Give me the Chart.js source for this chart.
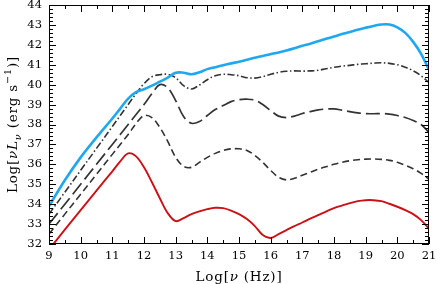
<!DOCTYPE html>
<html><head><meta charset="utf-8">
<script src="https://cdn.jsdelivr.net/npm/chart.js@4"></script>
<style>html,body{margin:0;padding:0;background:#fff;}canvas{display:block;}</style>
</head><body>
<canvas id="c" width="436" height="284"></canvas>
<script>
// ---- data (log frequency grid and log luminosities) ----
const logNu = [9, 9.5, 10, 10.5, 11, 11.25, 11.5, 11.75, 12, 12.25, 12.5, 12.75, 13, 13.25, 13.5, 13.75, 14, 14.25, 14.5, 14.75, 15, 15.25, 15.5, 15.75, 16, 16.25, 16.5, 16.75, 17, 17.25, 17.5, 17.75, 18, 18.25, 18.5, 18.75, 19, 19.25, 19.5, 19.75, 20, 20.25, 20.5, 20.75, 21];
const lumBlue = [33.9, 35.2, 36.35, 37.35, 38.3, 38.8, 39.3, 39.62, 39.77, 39.95, 40.15, 40.35, 40.6, 40.6, 40.52, 40.62, 40.78, 40.88, 40.98, 41.07, 41.15, 41.25, 41.35, 41.44, 41.53, 41.62, 41.72, 41.83, 41.95, 42.06, 42.18, 42.3, 42.42, 42.54, 42.65, 42.76, 42.86, 42.95, 43.02, 43.02, 42.88, 42.6, 42.15, 41.55, 40.75];
const lumDashDot = [33.5, 34.6, 35.7, 36.8, 37.9, 38.45, 39.0, 39.55, 40.05, 40.4, 40.5, 40.52, 40.35, 39.95, 39.78, 39.98, 40.25, 40.45, 40.52, 40.5, 40.45, 40.35, 40.33, 40.4, 40.52, 40.62, 40.67, 40.69, 40.68, 40.69, 40.72, 40.8, 40.87, 40.93, 40.97, 41.02, 41.05, 41.08, 41.1, 41.07, 41.0, 40.88, 40.7, 40.45, 40.1];
const lumLongDash = [33.0, 34.0, 35.0, 36.0, 37.0, 37.5, 38.0, 38.5, 39.0, 39.55, 40.0, 39.85, 39.2, 38.4, 38.06, 38.15, 38.45, 38.75, 38.95, 39.15, 39.25, 39.27, 39.22, 39.0, 38.7, 38.42, 38.35, 38.42, 38.55, 38.65, 38.73, 38.78, 38.78, 38.72, 38.65, 38.58, 38.55, 38.54, 38.55, 38.52, 38.45, 38.35, 38.2, 38.0, 37.6];
const lumShortDash = [32.5, 33.5, 34.5, 35.5, 36.5, 37.0, 37.5, 38.05, 38.45, 38.35, 37.85, 37.15, 36.35, 35.9, 35.85, 36.1, 36.35, 36.55, 36.7, 36.78, 36.78, 36.7, 36.45, 36.1, 35.7, 35.35, 35.22, 35.3, 35.45, 35.6, 35.75, 35.88, 36.0, 36.1, 36.18, 36.23, 36.26, 36.27, 36.25, 36.2, 36.1, 35.95, 35.78, 35.55, 35.25];
const lumRed = [31.72, 32.72, 33.7, 34.68, 35.65, 36.15, 36.55, 36.4, 35.85, 35.1, 34.3, 33.55, 33.15, 33.3, 33.5, 33.64, 33.75, 33.82, 33.8, 33.68, 33.5, 33.25, 32.9, 32.45, 32.3, 32.5, 32.7, 32.9, 33.08, 33.27, 33.45, 33.63, 33.8, 33.93, 34.05, 34.15, 34.2, 34.2, 34.15, 34.02, 33.87, 33.7, 33.5, 33.2, 32.77];

const xTickLabels = ['9','10','11','12','13','14','15','16','17','18','19','20','21'];
const yTickLabels = ['32','33','34','35','36','37','38','39','40','41','42','43','44'];
const xTitleParts = [{text:'Log['}, {text:'ν', italic:true}, {text:' (Hz)]'}];
const yTitleParts = [{text:'Log['}, {text:'ν', italic:true}, {text:'L', italic:true}, {text:'ν', italic:true, script:'sub'}, {text:' (erg s'}, {text:'−1', script:'sup'}, {text:')]'}];

const SERIF = "'DejaVu Serif', serif";

function pts(ys) { return logNu.map((x, i) => ({x, y: ys[i]})); }

function drawRich(ctx, parts, size) {
  ctx.letterSpacing = '0.8px';
  let w = 0;
  const items = parts.map(p => {
    const s = p.script ? size * 0.72 : size;
    const font = (p.italic ? 'italic ' : '') + s + 'px ' + SERIF;
    ctx.font = font;
    const width = ctx.measureText(p.text).width;
    w += width;
    const dy = p.script === 'sub' ? size * 0.3 : p.script === 'sup' ? -size * 0.42 : 0;
    return {text: p.text, font, width, dy};
  });
  let x = -w / 2;
  for (const it of items) { ctx.font = it.font; ctx.fillText(it.text, x, it.dy); x += it.width; }
}

const framePlugin = {
  id: 'frame',
  afterDatasetsDraw(chart) {
    const {ctx, chartArea: a, scales} = chart;
    const xs = scales.x, ys = scales.y;
    ctx.save();
    ctx.strokeStyle = '#000';
    ctx.lineWidth = 1;
    ctx.strokeRect(a.left + 0.5, a.top + 0.5, a.right - a.left - 1, a.bottom - a.top - 1);
    ctx.beginPath();
    for (let i = 0; i <= 24; i++) {
      const v = 9 + i * 0.5;
      const px = Math.round(xs.getPixelForValue(v)) + 0.5;
      const len = (i % 2 === 0) ? 7 : 4;
      ctx.moveTo(px, a.bottom); ctx.lineTo(px, a.bottom - len);
      ctx.moveTo(px, a.top); ctx.lineTo(px, a.top + len);
    }
    for (let i = 0; i <= 60; i++) {
      const v = 32 + i * 0.2;
      const py = Math.round(ys.getPixelForValue(v)) + 0.5;
      const len = (i % 5 === 0) ? 7 : 4;
      ctx.moveTo(a.left, py); ctx.lineTo(a.left + len, py);
      ctx.moveTo(a.right, py); ctx.lineTo(a.right - len, py);
    }
    ctx.stroke();
    ctx.restore();
  },
  afterDraw(chart) {
    const {ctx, chartArea: a} = chart;
    ctx.save();
    ctx.fillStyle = '#000';
    ctx.textAlign = 'left';
    ctx.textBaseline = 'alphabetic';
    ctx.save();
    ctx.translate((a.left + a.right) / 2, 280.5);
    drawRich(ctx, xTitleParts, 13.5);
    ctx.restore();
    ctx.save();
    ctx.translate(17, (a.top + a.bottom) / 2);
    ctx.rotate(-Math.PI / 2);
    drawRich(ctx, yTitleParts, 13.5);
    ctx.restore();
    ctx.restore();
  }
};

const common = {pointRadius: 0, fill: false, tension: 0.35};

new Chart(document.getElementById('c'), {
  type: 'line',
  data: {
    datasets: [
      {...common, label: 'total', data: pts(lumBlue), borderColor: '#1ea8ef', borderWidth: 2.6},
      {...common, label: 'dash-dot', data: pts(lumDashDot), borderColor: '#333', borderWidth: 1.6, borderDash: [7, 2.5, 1.5, 2.5]},
      {...common, label: 'long dash', data: pts(lumLongDash), borderColor: '#333', borderWidth: 1.7, borderDash: [14, 5]},
      {...common, label: 'short dash', data: pts(lumShortDash), borderColor: '#333', borderWidth: 1.6, borderDash: [7, 4]},
      {...common, label: 'red', data: pts(lumRed), borderColor: '#cc1016', borderWidth: 1.9}
    ]
  },
  options: {
    responsive: false,
    animation: false,
    events: [],
    layout: {padding: {top: 5, right: 7, left: 0, bottom: 0}, autoPadding: false},
    plugins: {legend: {display: false}, tooltip: {enabled: false}},
    scales: {
      x: {
        type: 'linear', min: 9, max: 21,
        grid: {display: false, drawTicks: false},
        border: {display: false},
        ticks: {stepSize: 1, padding: 5, color: '#000', font: {family: SERIF, size: 11.5},
          callback: (v) => xTickLabels[Math.round(v - 9)], maxRotation: 0, autoSkip: false},
        afterFit(s) { s.height = 40; s.paddingLeft = 0; s.paddingRight = 0; }
      },
      y: {
        type: 'linear', min: 32, max: 44,
        grid: {display: false, drawTicks: false},
        border: {display: false},
        ticks: {stepSize: 1, padding: 7, color: '#000', font: {family: SERIF, size: 11.5},
          callback: (v) => yTickLabels[Math.round(v - 32)], autoSkip: false},
        afterFit(s) { s.width = 49; s.paddingTop = 0; s.paddingBottom = 0; }
      }
    }
  },
  plugins: [framePlugin]
});
</script>
</body></html>
